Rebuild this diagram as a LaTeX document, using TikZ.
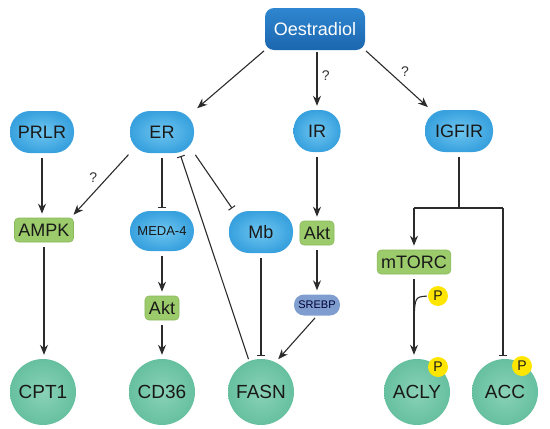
\documentclass[tikz,border=0pt]{standalone}
\usepackage{fontspec}
\setmainfont{Liberation Sans}
\usepackage{xcolor}
\usetikzlibrary{arrows.meta,positioning}
\definecolor{recblue}{HTML}{38A1DE}
\definecolor{reclight}{HTML}{6FC6F0}
\definecolor{oesblue}{HTML}{1B66AF}
\definecolor{oeslight}{HTML}{2F86D0}
\definecolor{kingreen}{HTML}{9CCB6B}
\definecolor{kinedge}{HTML}{88B95A}
\definecolor{tgtteal}{HTML}{66C0A0}
\definecolor{tgtlight}{HTML}{8AD2B8}
\definecolor{srebpblue}{HTML}{7F9ECF}
\definecolor{phosyellow}{HTML}{FFE600}
\definecolor{linegrey}{HTML}{2B2B2B}

\begin{document}
\begin{tikzpicture}[x=1pt,y=-1pt,
  recep/.style={rounded corners=20pt,minimum width=64pt,minimum height=42pt,inner color=reclight,outer color=recblue,text=black!90,font=\fontsize{18}{20}\selectfont},
  oesbox/.style={rounded corners=9pt,minimum width=100pt,minimum height=42pt,top color=oeslight,bottom color=oesblue,text=white,font=\fontsize{18}{20}\selectfont},
  kinase/.style={rounded corners=4pt,fill=kingreen,draw=kinedge,line width=0.6pt,inner xsep=4pt,minimum height=24pt,text=black!90,font=\fontsize{18}{20}\selectfont},
  srebpbox/.style={rounded corners=10pt,minimum width=46pt,minimum height=21pt,fill=srebpblue,text=blue!20!black,font=\fontsize{11}{12}\selectfont},
  target/.style={circle,minimum size=66pt,inner sep=0pt,inner color=tgtlight,outer color=tgtteal,text=black!90,font=\fontsize{19}{21}\selectfont},
  phos/.style={circle,minimum size=20pt,inner sep=0pt,fill=phosyellow,text=black!90,font=\fontsize{14}{15}\selectfont},
  query/.style={font=\fontsize{14}{15}\selectfont,text=black!80},
  arrow/.style={-{Stealth[length=10pt,width=8pt]},line width=1.1pt,color=linegrey,shorten <=5pt,shorten >=4pt},
  inhib/.style={-{Bar[width=8pt,line width=1pt]},line width=1.1pt,color=linegrey,shorten <=5pt,shorten >=3pt},
  link/.style={line width=1.1pt,color=linegrey}
]
\useasboundingbox (0,0) rectangle (550,429);

% receptors and ligand
\node[oesbox] (oes) at (315,29) {Oestradiol};
\node[recep] (prlr) at (42,132) {PRLR};
\node[recep] (er) at (162,132) {ER};
\node[recep,minimum width=47pt] (ir) at (317,131) {IR};
\node[recep,minimum width=68pt] (igf) at (459,131) {IGFIR};

% middle layer
\node[kinase] (ampk) at (44,230) {AMPK};
\node[recep,minimum height=40pt,font=\fontsize{13}{15}\selectfont] (meda) at (162,231) {MEDA-4};
\node[recep] (mb) at (261,232) {Mb};
\node[kinase] (aktir) at (317,233) {Akt};
\node[kinase] (aktmeda) at (162,308) {Akt};
\node[srebpbox] (srebp) at (317,305) {SREBP};
\node[kinase] (mtorc) at (414,262) {mTORC};

% targets
\node[target] (cpt) at (43,392) {CPT1};
\node[target] (cd) at (162,392) {CD36};
\node[target] (fasn) at (261,392) {FASN};
\node[target] (acly) at (417,392) {ACLY};
\node[target] (acc) at (505,392) {ACC};
\node[phos] (pm) at (438,296) {P};
\node[phos] (pa) at (438,367) {P};
\node[phos] (pc) at (522,366) {P};

% connectors
\draw[arrow,shorten <=1pt] (oes.south west) -- (er.north east);
\draw[arrow,shorten <=2pt] (oes.south -| ir) -- (ir.north) node[query,pos=0.42,right=1pt] {?};
\draw[arrow,shorten <=1pt] (oes.south east) -- ([xshift=6pt]igf.north west) node[query,midway,above right=-1pt] {?};
\draw[arrow] (prlr) -- (prlr |- ampk.north);
\draw[arrow,shorten <=2pt] (er.south west) -- ([xshift=-3pt]ampk.north east) node[query,midway,above left=-1pt] {?};
\draw[inhib] (er) -- (meda);
\draw[inhib,shorten <=2pt] (er.south east) -- ([xshift=5pt]mb.north west);
\draw[inhib,shorten <=2pt] (fasn.111) -- (er.-50);
\draw[inhib] (mb) -- (fasn);
\draw[arrow] (ir) -- (aktir);
\draw[arrow] (aktir) -- (srebp);
\draw[arrow,shorten <=3pt] (srebp.south) -- (fasn.64);
\draw[arrow] (meda) -- (aktmeda);
\draw[arrow] (aktmeda) -- (cd);
\draw[arrow] (ampk) -- (ampk |- cpt.north);

% IGFIR branch
\coordinate (bl) at (414,208);
\coordinate (br) at (503,208);
\coordinate (pj) at (414,320);
\draw[link,shorten <=5pt] (igf) -- (igf |- bl);
\draw[link] (bl) -- (br);
\draw[arrow,shorten <=0pt] (bl) -- (mtorc.north);
\draw[inhib,shorten <=0pt] (br) -- (br |- acc.north);
\draw[arrow] (mtorc.south) -- (mtorc.south |- acly.north);
\draw[link,shorten <=1pt] (pm.west) .. controls (415,297) .. (pj);
\end{tikzpicture}
\end{document}
